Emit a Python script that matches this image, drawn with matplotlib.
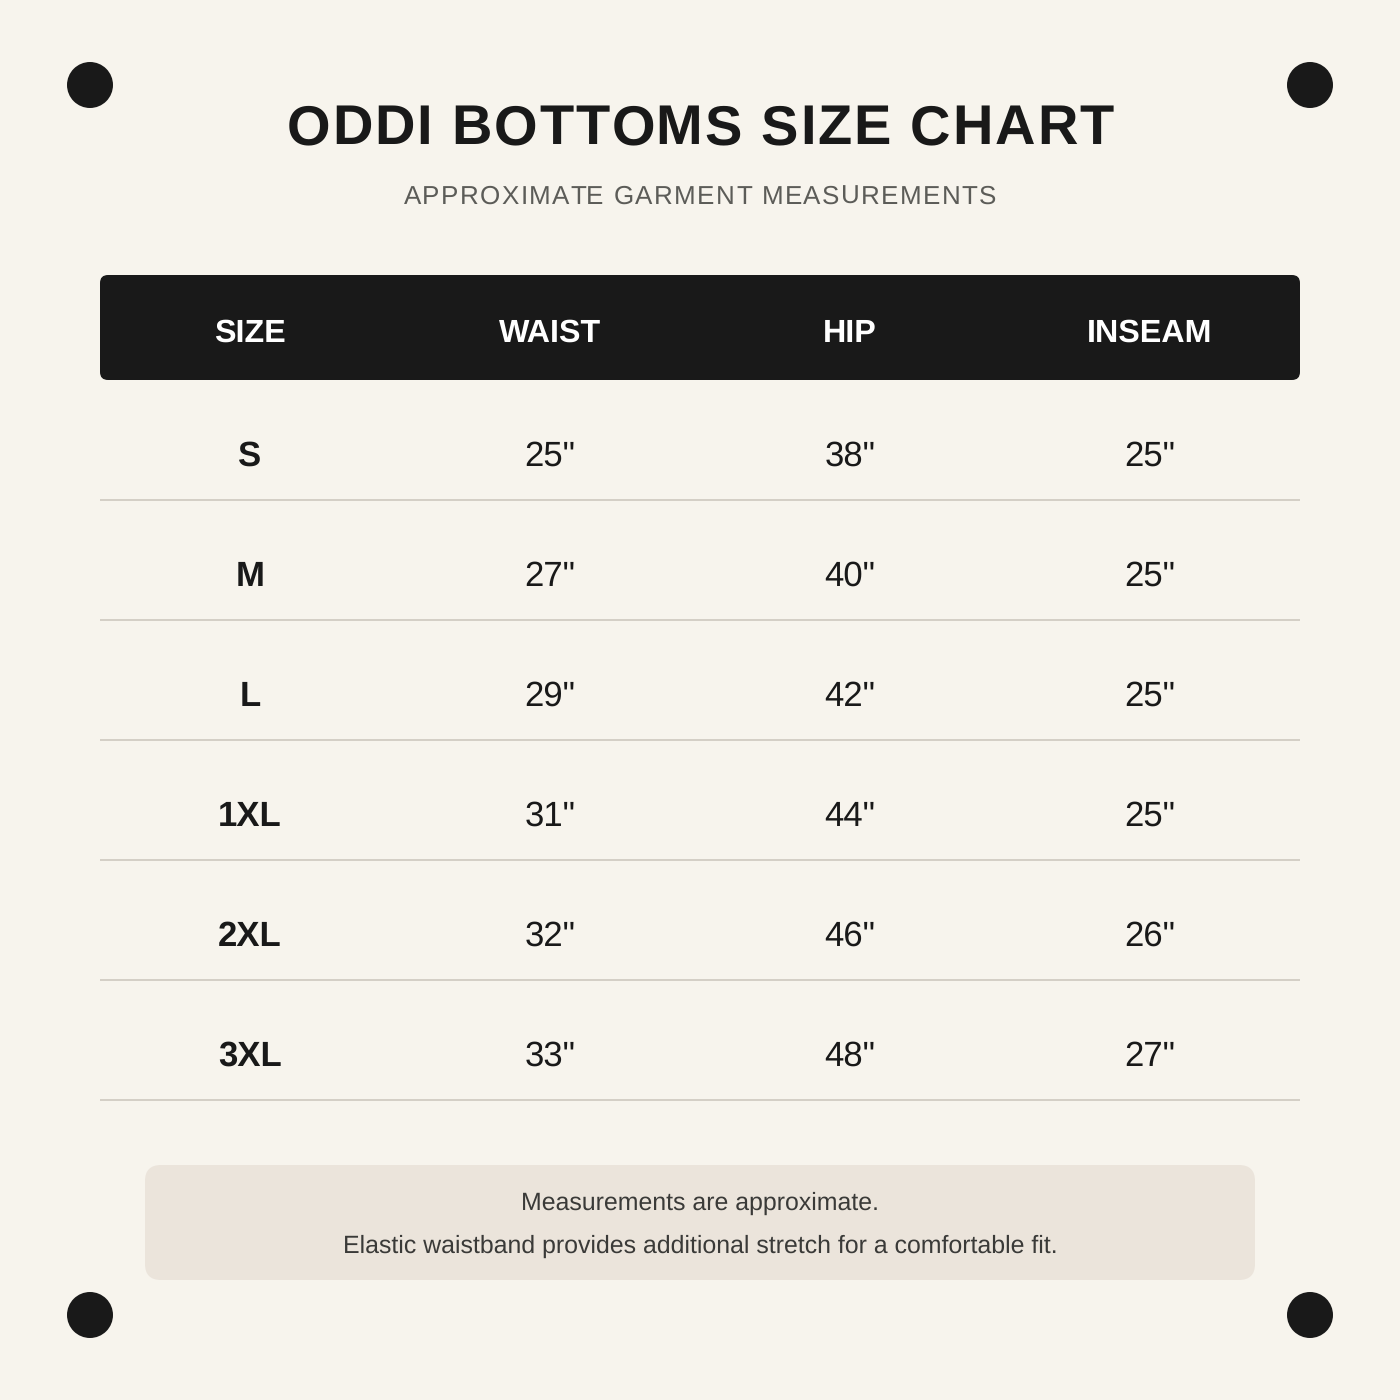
import matplotlib
matplotlib.use("Agg")
import matplotlib.pyplot as plt
from matplotlib.patches import Circle, FancyBboxPatch

plt.rcParams['font.family'] = ['Liberation Sans', 'DejaVu Sans']
plt.rcParams['text.hinting'] = 'no_hinting'
plt.rcParams['text.hinting_factor'] = 8

title = "ODDI BOTTOMS SIZE CHART"
subtitle = "APPROXIMATE GARMENT MEASUREMENTS"
headers = ["SIZE", "WAIST", "HIP", "INSEAM"]
sizes = ["S", "M", "L", "1XL", "2XL", "3XL"]
waist = [25, 27, 29, 31, 32, 33]
hip = [38, 40, 42, 44, 46, 48]
inseam = [25, 25, 25, 25, 26, 27]
notes = ["Measurements are approximate.",
         "Elastic waistband provides additional stretch for a comfortable fit."]

BG = "#f7f4ed"
DARK = "#191919"

fig = plt.figure(figsize=(14, 14), dpi=100, facecolor=BG)
ax = fig.add_axes([0, 0, 1, 1])
ax.set_xlim(0, 1400)
ax.set_ylim(1400, 0)
ax.axis("off")

# corner dots
for cx in (90, 1310):
    for cy in (85, 1315):
        ax.add_patch(Circle((cx, cy), 23, fc=DARK, ec="none"))

# title, letter spaced by hand because matplotlib has no tracking
def spaced(x_mid, y, s, size, spacing, **kw):
    r = fig.canvas.get_renderer()
    widths = []
    for i in range(len(s)):
        t = ax.text(0, 0, s[:i + 1], fontsize=size, **kw)
        widths.append(t.get_window_extent(r).width)
        t.remove()
    x0 = x_mid - (widths[-1] + spacing * (len(s) - 1)) / 2
    prev = 0
    for i, ch in enumerate(s):
        ax.text(x0 + prev + spacing * i, y, ch, fontsize=size, ha="left", va="baseline", **kw)
        prev = widths[i]

spaced(700, 144, title, 40.3, 1.85, color=DARK, fontweight="bold")
spaced(700, 204, subtitle, 18.7, 1.4, color="#5c5c58")

# header bar
ax.add_patch(FancyBboxPatch((100, 275), 1200, 105, boxstyle="round,pad=0,rounding_size=8", fc=DARK, ec="none"))
col_x = [250, 550, 850, 1150]
for x, h in zip(col_x, headers):
    ax.text(x, 342, h, color="white", fontsize=23.2, fontweight="bold", ha="center", va="baseline")

# rows
row_y = [454, 574, 694, 814, 934, 1054]
for i, y in enumerate(row_y):
    ax.text(col_x[0], y + 12, sizes[i], color=DARK, fontsize=25, fontweight="bold", ha="center", va="baseline")
    ax.text(col_x[1], y + 12, f'{waist[i]}"', color=DARK, fontsize=25, ha="center", va="baseline")
    ax.text(col_x[2], y + 12, f'{hip[i]}"', color=DARK, fontsize=25, ha="center", va="baseline")
    ax.text(col_x[3], y + 12, f'{inseam[i]}"', color=DARK, fontsize=25, ha="center", va="baseline")
    ax.plot([100, 1300], [y + 46, y + 46], color="#d4cfc6", lw=1.44, solid_capstyle="butt")

# note box
ax.add_patch(FancyBboxPatch((145, 1165), 1110, 115, boxstyle="round,pad=0,rounding_size=16", fc="#ebe4db", ec="none"))
ax.text(700, 1210, notes[0], color="#3a3a38", fontsize=17.9, ha="center", va="baseline")
ax.text(700, 1253, notes[1], color="#3a3a38", fontsize=17.9, ha="center", va="baseline")

fig.savefig("out.png", dpi=100, facecolor=BG)
